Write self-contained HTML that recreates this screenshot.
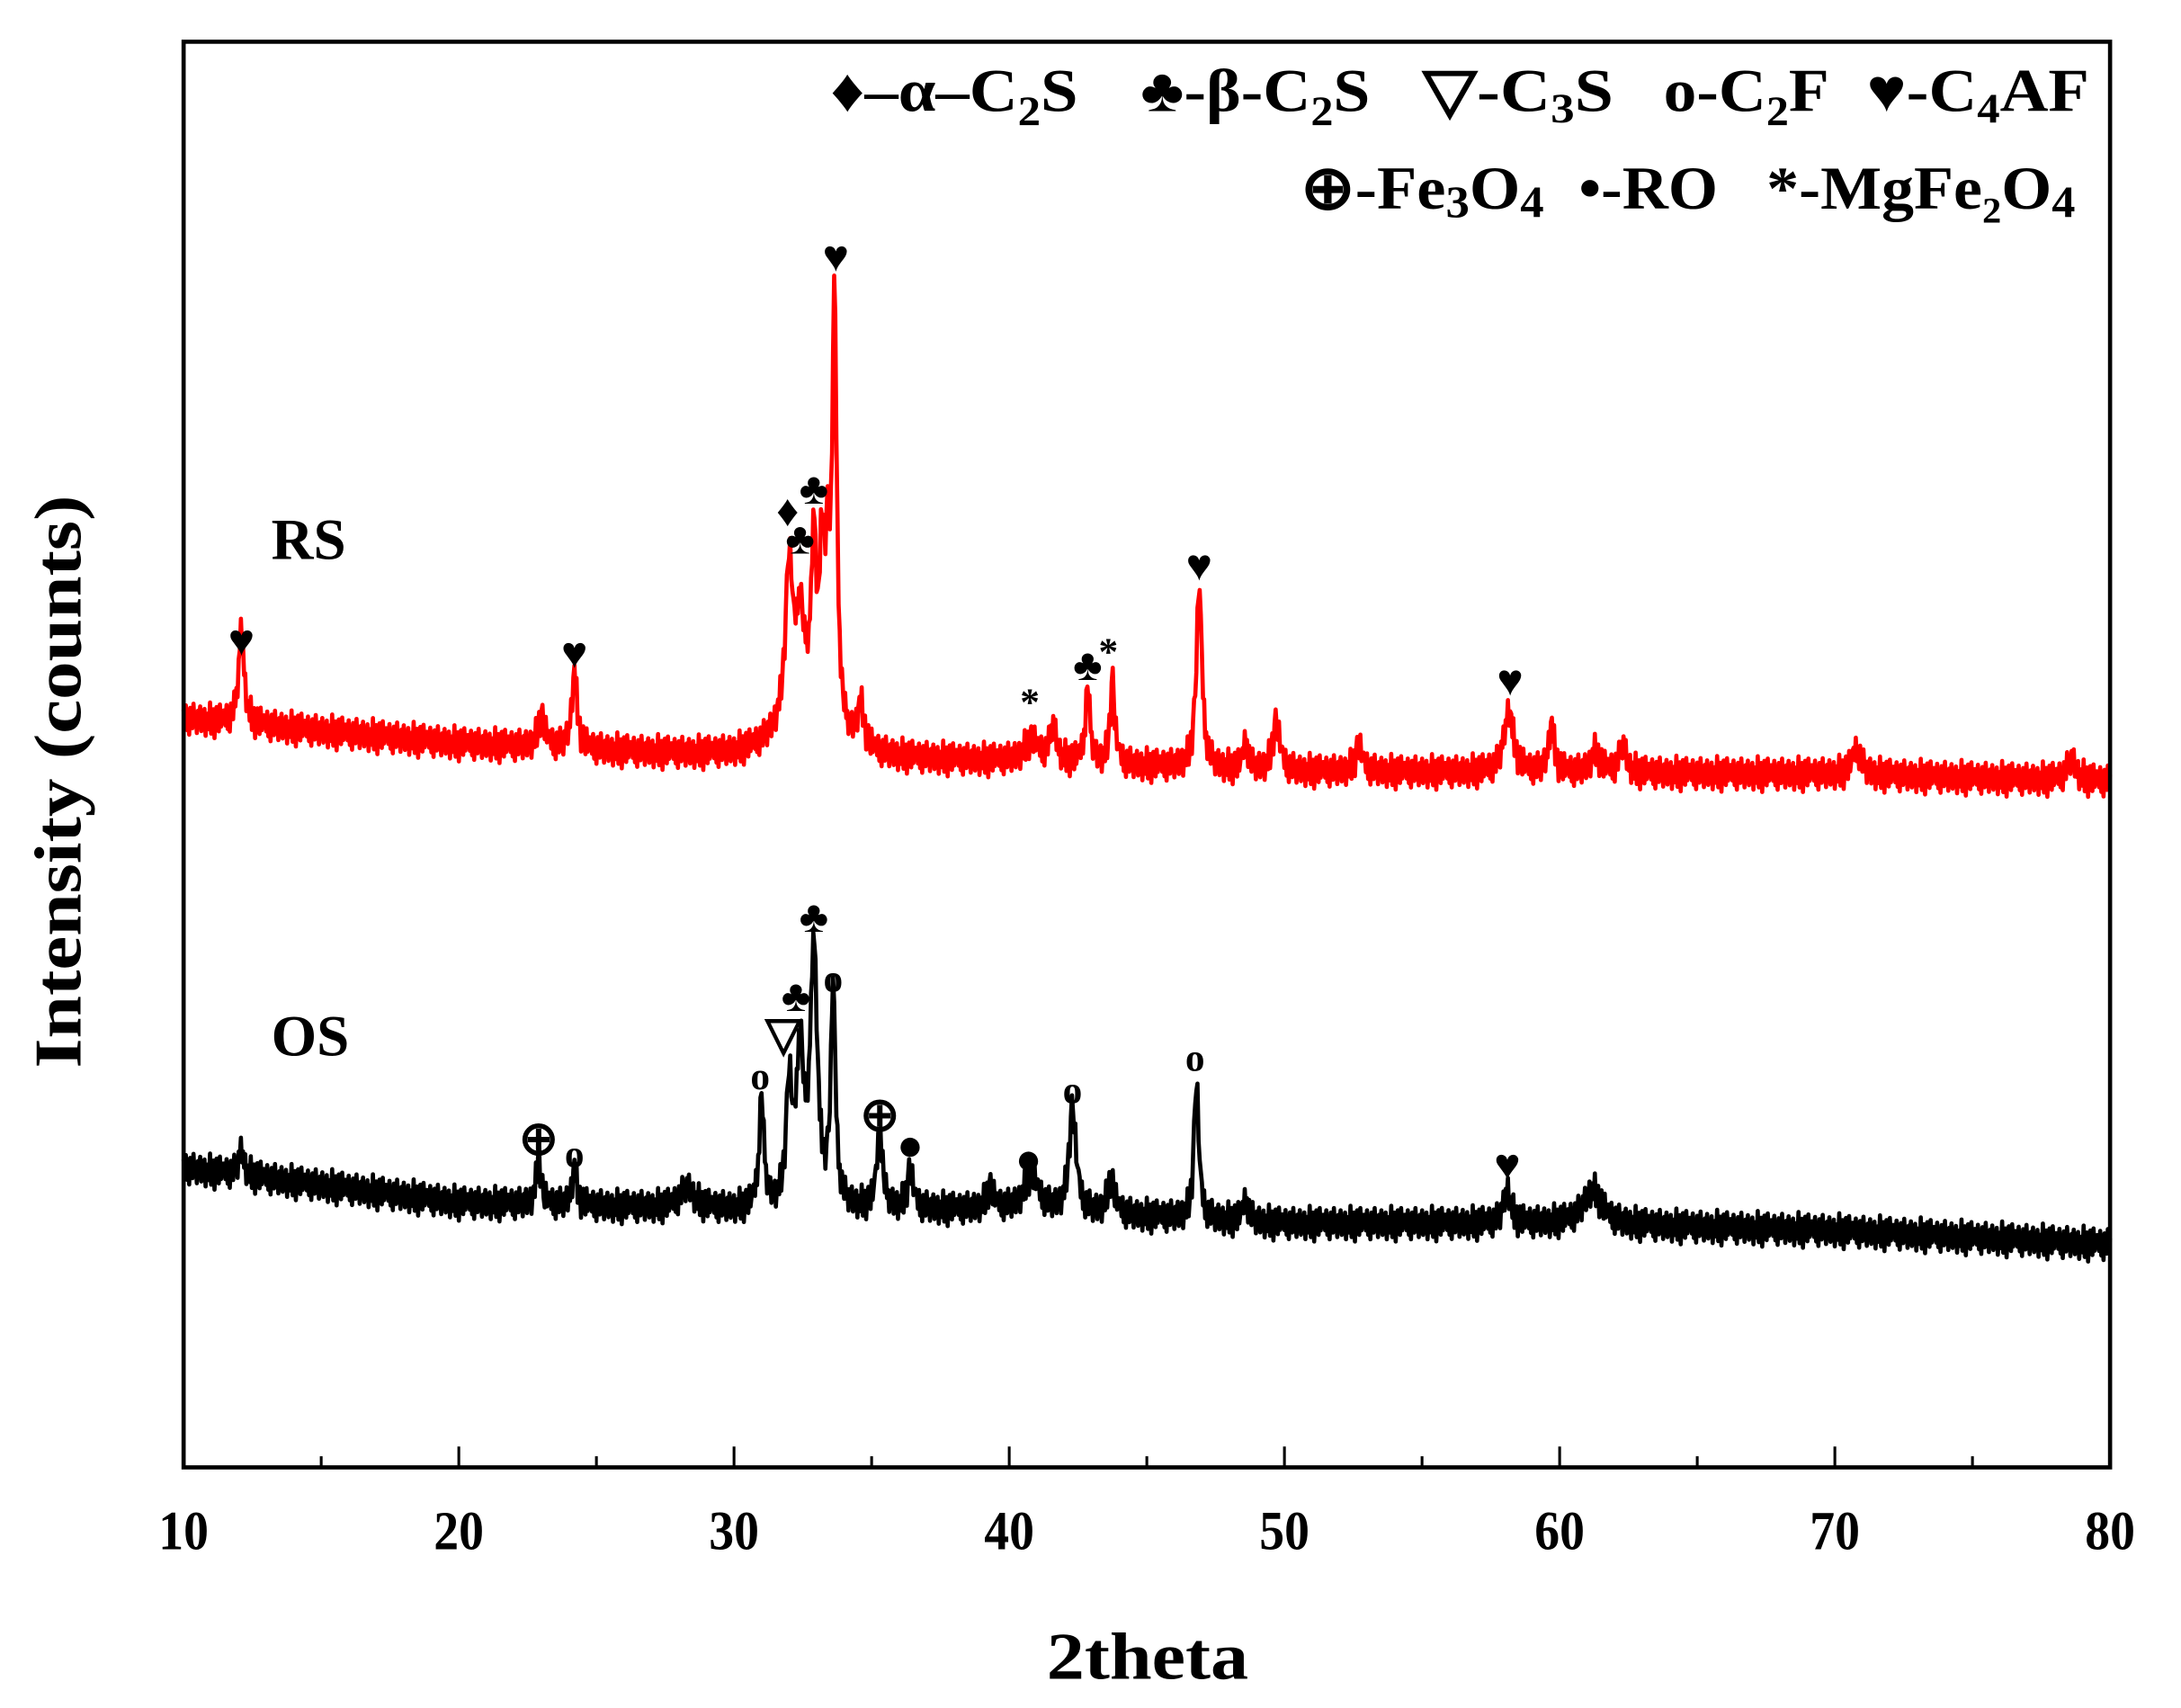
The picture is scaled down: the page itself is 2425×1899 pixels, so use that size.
<!DOCTYPE html>
<html><head><meta charset="utf-8"><style>
html,body{margin:0;padding:0;background:#fff;}
svg{display:block;font-family:"Liberation Serif",serif;font-weight:bold;}
</style></head><body>
<svg id="chart" width="2425" height="1899" viewBox="0 0 1568 1228" preserveAspectRatio="none" xmlns="http://www.w3.org/2000/svg">
<g id="plot"></g>
<rect x="132" y="30" width="1385" height="1025" fill="none" stroke="#000" stroke-width="3"/>
<g id="xticks"></g>
<text x="825" y="1207" font-size="48" text-anchor="middle" textLength="145" lengthAdjust="spacingAndGlyphs">2theta</text>
<text transform="translate(58,562) rotate(-90)" font-size="48" text-anchor="middle" textLength="412" lengthAdjust="spacingAndGlyphs">Intensity (counts)</text>
<text x="195" y="402" font-size="42">RS</text>
<text x="195" y="759" font-size="42">OS</text>
<g font-size="44">
<text x="597" y="80" textLength="178" lengthAdjust="spacingAndGlyphs">♦–α–C<tspan font-size="30" dy="10">2</tspan><tspan dy="-10">S</tspan></text>
<text x="820" y="80" textLength="165" lengthAdjust="spacingAndGlyphs">♣-β-C<tspan font-size="30" dy="10">2</tspan><tspan dy="-10">S</tspan></text>
<text x="1023" y="80" textLength="137" lengthAdjust="spacingAndGlyphs">▽-C<tspan font-size="30" dy="8">3</tspan><tspan dy="-8">S</tspan></text>
<text x="1196" y="80" textLength="119" lengthAdjust="spacingAndGlyphs">o-C<tspan font-size="30" dy="10">2</tspan><tspan dy="-10">F</tspan></text>
<text x="1342" y="80" textLength="160" lengthAdjust="spacingAndGlyphs">♥-C<tspan font-size="30" dy="8">4</tspan><tspan dy="-8">AF</tspan></text>
<text x="935" y="150" textLength="175" lengthAdjust="spacingAndGlyphs">⊕-Fe<tspan font-size="32" dy="6">3</tspan><tspan dy="-6">O</tspan><tspan font-size="32" dy="6">4</tspan></text>
<text x="1135" y="150" textLength="100" lengthAdjust="spacingAndGlyphs">•-RO</text>
<text x="1270" y="150" textLength="222" lengthAdjust="spacingAndGlyphs">*-MgFe<tspan font-size="26" dy="10">2</tspan><tspan dy="-10">O</tspan><tspan font-size="32" dy="6">4</tspan></text>
</g>
<g id="marks" font-size="30" text-anchor="middle"></g>
</svg>
<script>
// ---- data ----
const xTicks = [10,20,30,40,50,60,70,80];
const minorTicks = [15,25,35,45,55,65,75];
const baseX = [10,20,30,40,50,60,70,80];
const rsBase = [538,520,510,507,500,499,498,493];
const osBase = [215,190,185,185,175,175,170,160];
const rsPeakPos = [12.1,23.0,24.2,32.0,32.4,32.5,32.9,33.2,33.4,33.65,34.6,40.8,41.6,42.85,43.75,46.9,48.6,49.7,52.7,58.15,59.7,61.3,62.3,70.8,78.6];
const rsPeakH =   [68,  22,  55,  110, 60,  40,  120, 110, 95,  305,  30,  15,  25,  55,   60,   130, 20,  35,  18,  45,   35,  15,  20,  18,  15];
const rsPeakW =   [0.12,0.15,0.12,0.15,0.15,0.9, 0.1, 0.1, 0.1, 0.1,  0.15,0.3, 0.15,0.1,  0.1,  0.12, 0.1, 0.15,0.15,0.2,  0.12,0.2, 0.15,0.2, 0.2];
const osPeakPos = [12.1,22.9,24.2,28.3,31.0,32.0,32.4,32.9,33.6,35.3,36.4,39.3,40.8,42.3,43.7,46.8,48.6,58.1,61.2];
const osPeakH =   [18,  35,  28,  15,  80,  85,  110, 185, 155, 55,  28,  15,  25,  75,  25,  100, 15,  25,  25];
const osPeakW =   [0.12,0.1, 0.1, 0.3, 0.1, 0.12,0.15,0.15,0.1, 0.12,0.12,0.15,0.3, 0.15,0.15,0.1, 0.12,0.15,0.4];
const noise = [4,-3,6,-5,2,-7,5,0,-4,7,-2,3,-6,4,-1,6,-5,2,-3,5,-7,1,3,-4,8,-6,0,5,-8,2,6,-2,-5,7,-3,1,4];
// ---- axes ----
const X = v => 132 + (v - 10) * (1385 / 70);
const Y = v => 1055 - v;
const NS = "http://www.w3.org/2000/svg";
function mk(tag, attrs, parent){const e=document.createElementNS(NS,tag);for(const k in attrs)e.setAttribute(k,attrs[k]);parent.appendChild(e);return e;}
const xt = document.getElementById('xticks');
xTicks.forEach(t=>{
  const l = mk('line',{x1:X(t),x2:X(t),y1:1055,y2:1040,stroke:'#000','stroke-width':2},xt);
  
  
  const tx = mk('text',{x:X(t),y:1114,'font-size':40,'text-anchor':'middle',textLength:36,lengthAdjust:'spacingAndGlyphs'},xt);
  tx.textContent = t;
  
  
});
minorTicks.forEach(t=>{
  const l = mk('line',{x1:X(t),x2:X(t),y1:1055,y2:1047,stroke:'#000','stroke-width':2},xt);
  
  
});
function interpBase(x, base){
  for(let i=0;i<baseX.length-1;i++){ if(x<=baseX[i+1]){const f=(x-baseX[i])/(baseX[i+1]-baseX[i]);return base[i]+f*(base[i+1]-base[i]);} }
  return base[base.length-1];
}
function series(base,pos,h,w){
  const pts=[];let k=0;
  for(let x=10;x<=80.0001;x+=0.04){
    let v=interpBase(x,base);
    for(let i=0;i<pos.length;i++){const d=(x-pos[i])/w[i];v+=h[i]/(1+d*d);}
    v+=noise[k%noise.length]*1.6;k++;
    pts.push(X(x).toFixed(1)+','+Y(v).toFixed(1));
  }
  return pts.join(' ');
}
const plot=document.getElementById('plot');
const rs=mk('polyline',{points:series(rsBase,rsPeakPos,rsPeakH,rsPeakW),fill:'none',stroke:'#ff0000','stroke-width':3,'stroke-linejoin':'round'},plot);


const os=mk('polyline',{points:series(osBase,osPeakPos,osPeakH,osPeakW),fill:'none',stroke:'#000','stroke-width':3,'stroke-linejoin':'round'},plot);


// ---- peak markers ----
const markSym = ['♥','♥','♥','♥','♥','♦','♣','♣','♣','*','*','⊕','⊕','o','o','o','o','o','▽','♣','♣','●','●','♥'];
const markX =   [12.1,24.2,33.7,46.9,58.2,31.95,32.4,32.9,42.85,40.75,43.6,22.9,35.3,24.2,30.95,33.6,42.3,46.75,31.8,32.25,32.9,36.4,40.7,58.1];
const markTop = [584,575,860,638,555,677,657,693,566,541,577,225,242,216,272,342,262,285,300,328,385,221,211,207];
const mg=document.getElementById('marks');
markSym.forEach((s,i)=>{
  const t=mk('text',{x:X(markX[i]),y:Y(markTop[i]),'font-size':(s==='⊕'||s==='▽')?34:(s==='o'||s==='*')?28:32},mg);
  t.textContent=s;
  
  
});
</script>
</body></html>
